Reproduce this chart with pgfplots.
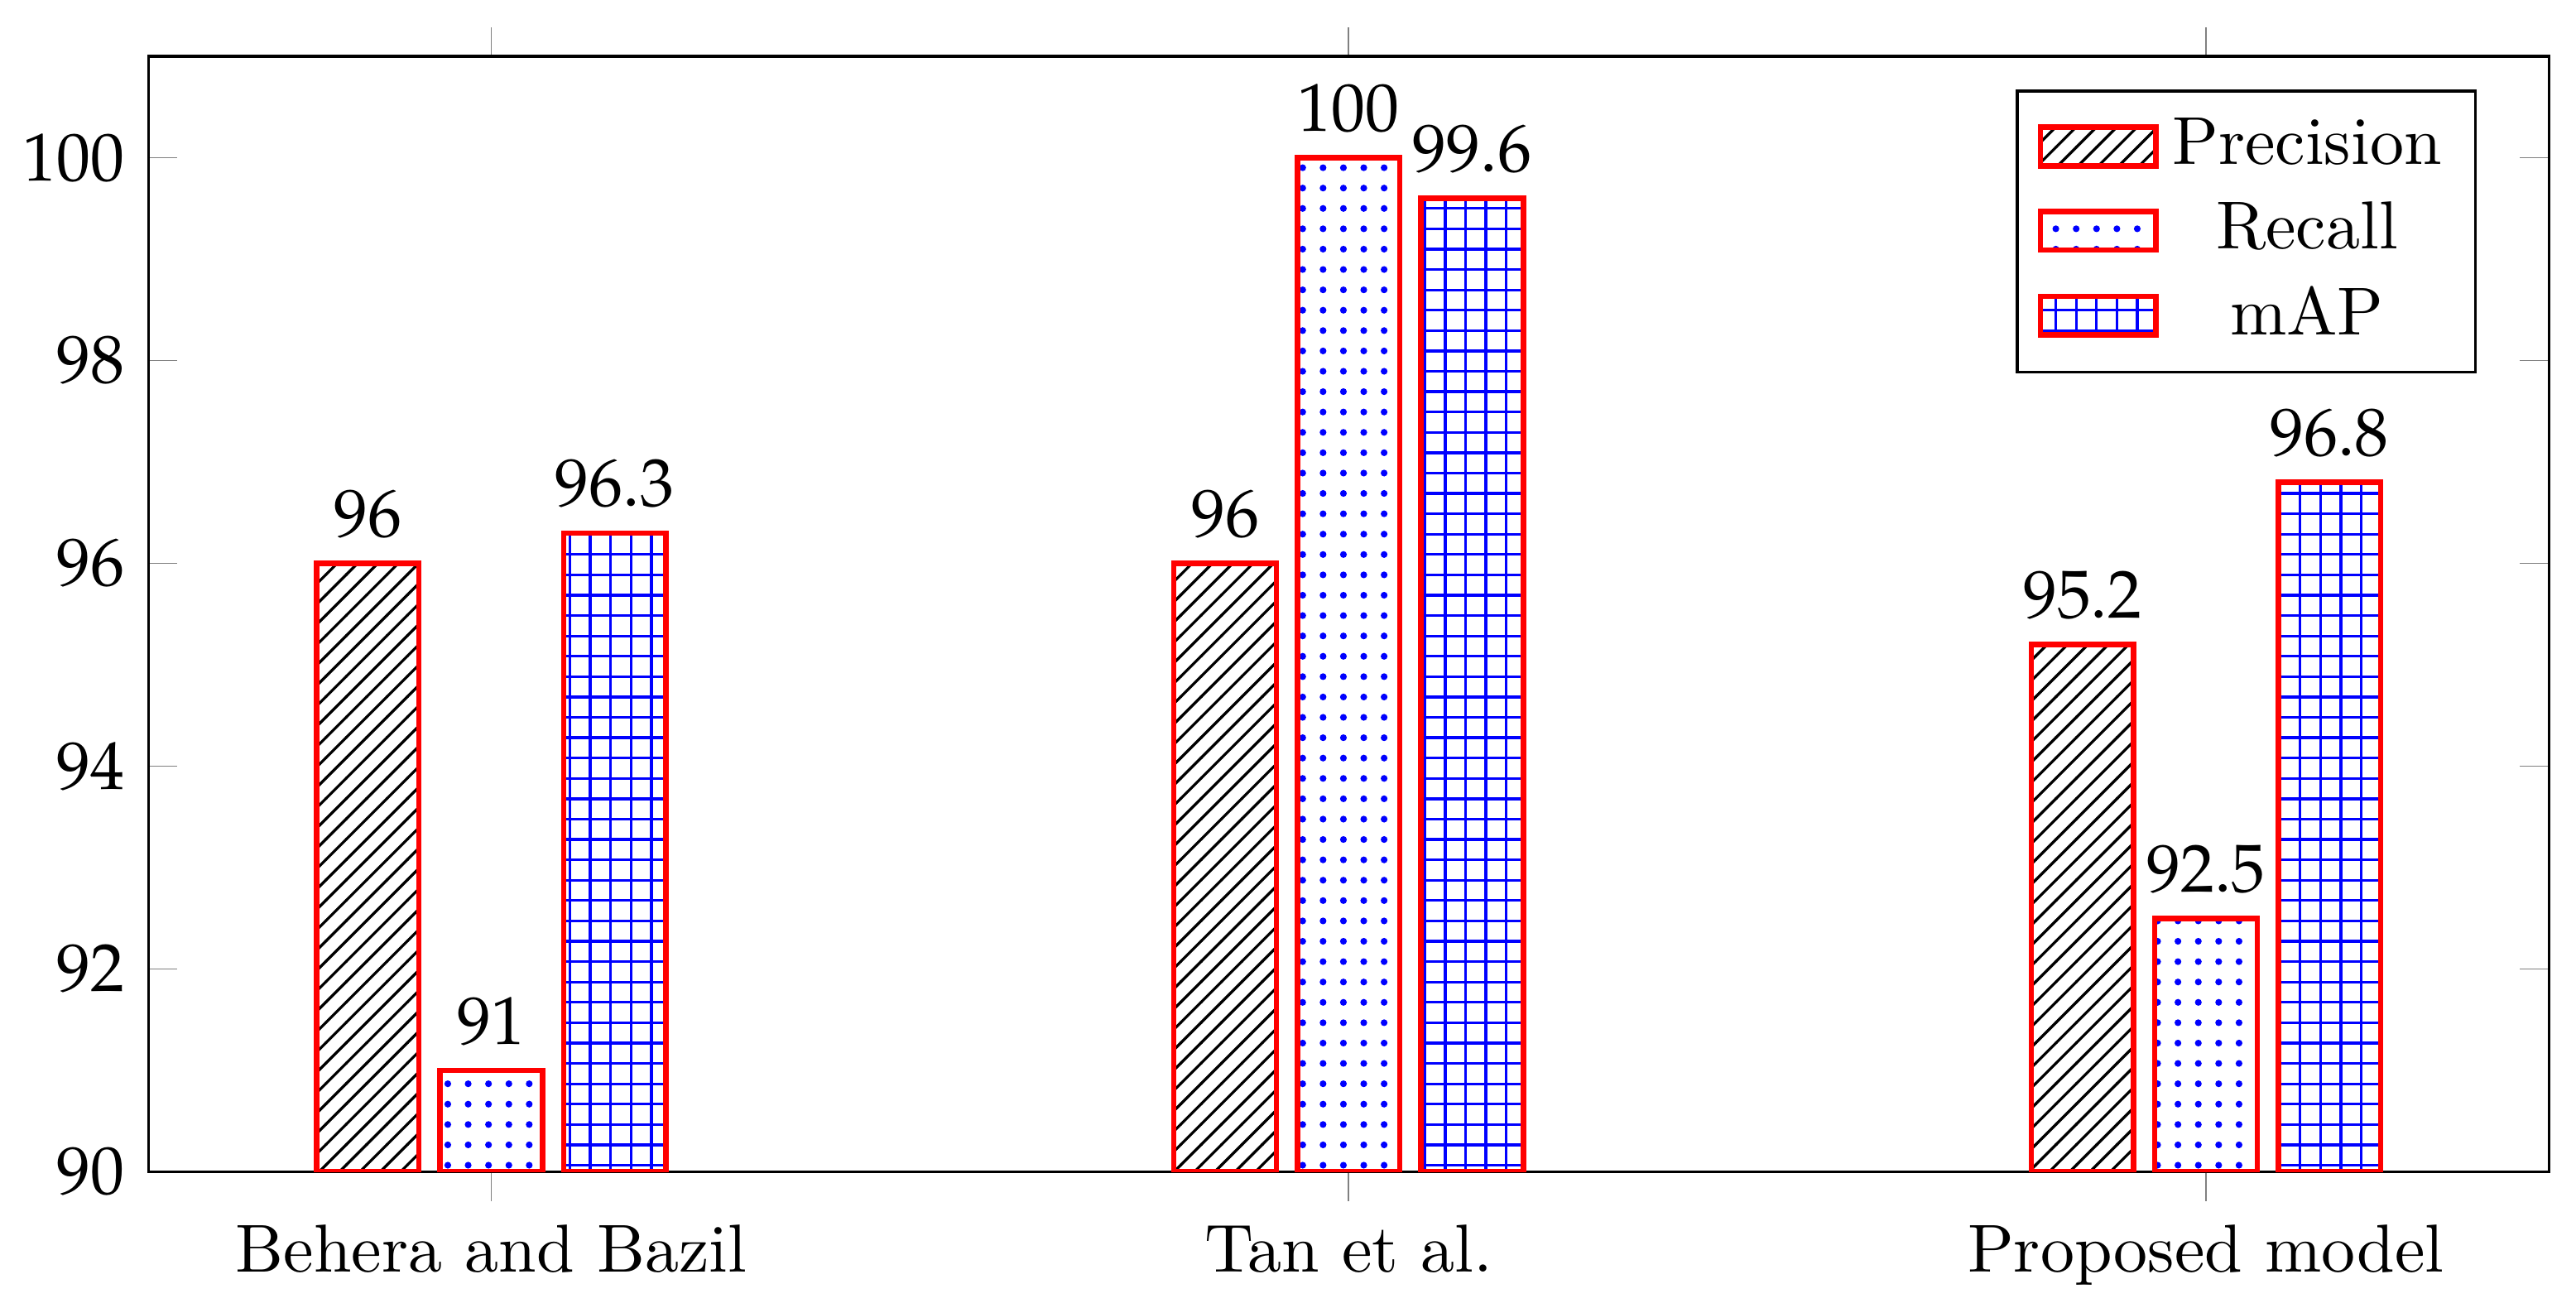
\documentclass[border=0pt]{standalone}
\usepackage{mathpazo}
\usepackage{pgfplots}
\pgfplotsset{compat=1.18}
\usetikzlibrary{patterns}
\begin{document}
\begin{tikzpicture}
\begin{axis}[
  width=353.8pt, height=164.4pt, scale only axis,
  ybar=3.1pt, bar width=15.1pt,
  xmin=-0.4, xmax=2.4, ymin=90, ymax=101,
  xtick={0,1,2}, xticklabels={Behera and Bazil, Tan et al., Proposed model},
  ytick={90,92,...,100},
  xtick align=outside, ytick align=inside,
  major tick style={very thin, gray},
  major tick length=4.27pt,
  nodes near coords,
  legend cell align=center,
  legend pos=north east,
  area legend,
]
\addplot[draw=red, thick, pattern=north east lines] coordinates {(0,96) (1,96) (2,95.2)};
\addplot[draw=red, thick, pattern=dots, pattern color=blue] coordinates {(0,91) (1,100) (2,92.5)};
\addplot[draw=red, thick, pattern=grid, pattern color=blue] coordinates {(0,96.3) (1,99.6) (2,96.8)};
\legend{Precision, Recall, mAP}
\end{axis}
\path ([yshift=8.3pt]current axis.north);
\path ([xshift=4pt]current axis.east);
\end{tikzpicture}
\end{document}
